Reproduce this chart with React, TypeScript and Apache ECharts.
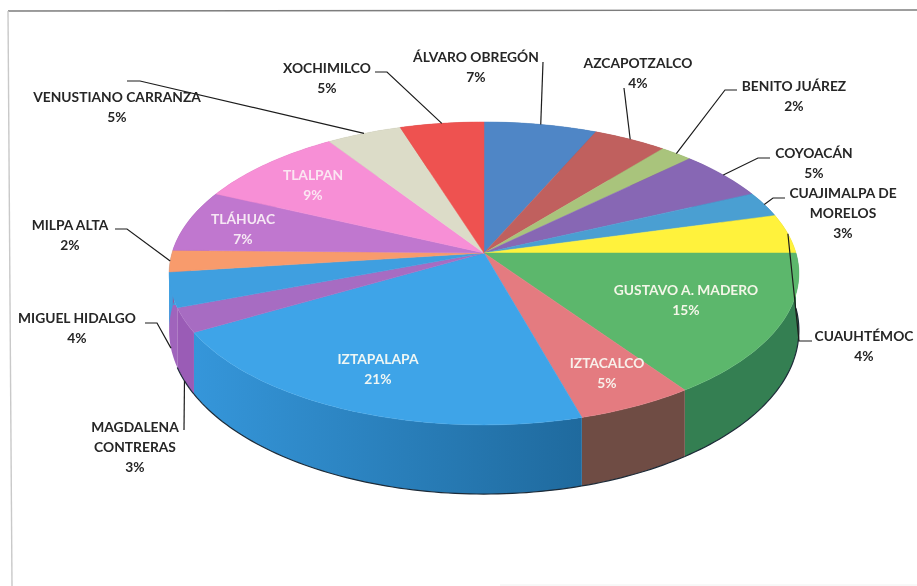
import React, { useEffect, useRef } from "react";
import * as echarts from "echarts";

const names = [
  "ÁLVARO OBREGÓN", "AZCAPOTZALCO", "BENITO JUÁREZ", "COYOACÁN", "CUAJIMALPA DE\nMORELOS",
  "CUAUHTÉMOC", "GUSTAVO A. MADERO", "IZTACALCO", "IZTAPALAPA", "MAGDALENA\nCONTRERAS",
  "MIGUEL HIDALGO", "MILPA ALTA", "TLÁHUAC", "TLALPAN", "VENUSTIANO CARRANZA", "XOCHIMILCO",
];
const values = [6.6, 4.3, 1.9, 5.3, 2.7, 4.2, 15.3, 5.3, 21.1, 2.6, 3.7, 2.3, 6.6, 8.8, 4.4, 4.9];
const percentLabels = ["7%", "4%", "2%", "5%", "3%", "4%", "15%", "5%", "21%", "3%", "4%", "2%", "7%", "9%", "5%", "5%"];

const topColors = [
  "#4f86c6", "#c0605e", "#a9c47c", "#8767b4", "#4a9fd2", "#fff23c", "#5cb76c", "#e47b80",
  "#3ea4e8", "#a76cc2", "#3f9fe0", "#f89b6c", "#c077cf", "#f78fd6", "#dcdcc8", "#ee5250",
];
const wallColors = [
  "#3b6594", "#8f4745", "#7f935c", "#654d87", "#37779e", "#bfb52c", "#347f52", "#6f4c44",
  "#2a80c4", "#9a5cb6", "#3f9fe0", "#3f9fe0", "#90599b", "#b96ba0", "#a5a596", "#b23d3c",
];

const CX = 484, CY = 253, RX = 312, RY = 148.7, K = 0.135;
const total = values.reduce((a, b) => a + b, 0);

function startAngle(i: number) {
  let s = 0;
  for (let j = 0; j < i; j++) s += values[j];
  return (s / total) * Math.PI * 2;
}
function topPt(a: number): [number, number] {
  const u = Math.sin(a), v = -Math.cos(a), w = 1 - K * v;
  return [CX + (RX * u) / w, CY + (RY * v) / w];
}
function botPt(a: number): [number, number] {
  const [x, y] = topPt(a);
  return [x, y + 55.4 + 0.08 * (y - CY)];
}
function arc(a0: number, a1: number, f: (a: number) => [number, number]) {
  const n = Math.max(2, Math.ceil((a1 - a0) / 0.02));
  const pts: [number, number][] = [];
  for (let i = 0; i <= n; i++) pts.push(f(a0 + ((a1 - a0) * i) / n));
  return pts;
}

// label placement: centre of text block and first-line y
const labelBoxes: { x: number; y: number; c?: string }[] = [
  { x: 476, y: 57 }, { x: 638, y: 63 }, { x: 794, y: 86 }, { x: 814, y: 153 },
  { x: 843, y: 193 }, { x: 864, y: 336 }, { x: 686, y: 290, c: "#f4f6e8" },
  { x: 607, y: 363, c: "#f8f0ea" }, { x: 378, y: 359, c: "#eef6f4" }, { x: 135, y: 427 },
  { x: 77, y: 318 }, { x: 70, y: 225 }, { x: 243, y: 219, c: "#f6e8f4" },
  { x: 313, y: 175, c: "#fbe6f2" }, { x: 117, y: 97 }, { x: 327, y: 68 },
];
// leader lines: label-side points; the last point is computed from the slice's mid angle
const leaders: { i: number; pts: [number, number][]; bottom?: boolean }[] = [
  { i: 0, pts: [[543, 62]] },
  { i: 1, pts: [[624, 88]] },
  { i: 2, pts: [[737, 90], [725, 90]] },
  { i: 3, pts: [[770, 158], [758, 158]] },
  { i: 4, pts: [[785, 198], [773, 198]] },
  { i: 5, pts: [[812, 341], [799, 341]] },
  { i: 9, pts: [[184, 430]], bottom: true },
  { i: 10, pts: [[145, 323], [157, 323]], bottom: true },
  { i: 11, pts: [[115, 229], [127, 229]] },
  { i: 14, pts: [[127, 81], [140, 81]] },
  { i: 15, pts: [[375, 72], [387, 72]] },
];

const FONT = "Lato";

export default function App() {
  const ref = useRef<HTMLDivElement>(null);
  useEffect(() => {
    const chart = echarts.init(ref.current!, undefined, { renderer: "svg" });
    const walls = {
      type: "custom",
      coordinateSystem: "none",
      z: 1,
      silent: true,
      data: values,
      renderItem: (p: any) => {
        const i = p.dataIndex;
        const a0 = startAngle(i), a1 = startAngle(i + 1);
        const t = arc(a0, a1, topPt), b = arc(a0, a1, botPt);
        const pts = t.concat(b.slice().reverse());
        let fill: any = wallColors[i];
        if (i === 8) {
          fill = new echarts.graphic.LinearGradient(1, 0, 0, 0, [
            { offset: 0, color: "#1f6a9e" },
            { offset: 1, color: "#3596da" },
          ]);
        } else if (i === 10) {
          fill = new echarts.graphic.LinearGradient(
            0, 280, 0, 330,
            [
              { offset: 0, color: "#3f9fe0" },
              { offset: 0.5, color: "#3f9fe0" },
              { offset: 0.5, color: "#a064bc" },
              { offset: 1, color: "#a064bc" },
            ],
            true
          );
        }
        return {
          type: "group",
          children: [
            { type: "polygon", shape: { points: pts }, style: { fill, lineWidth: 0 } },
            {
              type: "polyline",
              shape: { points: b },
              style: { fill: "none", stroke: "#1d2b38", lineWidth: i >= 6 && i <= 9 ? 1.2 : 0 },
            },
          ],
        };
      },
    };
    const tops = {
      type: "custom",
      coordinateSystem: "none",
      z: 2,
      silent: true,
      data: values,
      renderItem: (p: any) => {
        const i = p.dataIndex;
        const pts = [[CX, CY] as [number, number]].concat(arc(startAngle(i), startAngle(i + 1), topPt));
        return {
          type: "polygon",
          shape: { points: pts },
          style: { fill: topColors[i], stroke: topColors[i], lineWidth: 0.5 },
        };
      },
    };
    const graphic: any[] = [
      { type: "line", z: 5, shape: { x1: 8, y1: 11, x2: 917, y2: 10 }, style: { stroke: "#7d7d7d", lineWidth: 1.4 } },
      { type: "line", z: 5, shape: { x1: 8, y1: 11, x2: 12, y2: 586 }, style: { stroke: "#c9c9c9", lineWidth: 1.4 } },
      { type: "line", z: 5, shape: { x1: 500, y1: 585, x2: 917, y2: 585 }, style: { stroke: "#f0f0f0", lineWidth: 1 } },
    ];
    leaders.forEach((l) => {
      const mid = (startAngle(l.i) + startAngle(l.i + 1)) / 2;
      const end = l.bottom ? botPt(mid) : topPt(mid);
      graphic.push({
        type: "polyline",
        z: 6,
        shape: { points: [...l.pts, end] },
        style: { fill: "none", stroke: "#1c1c1c", lineWidth: 1.2 },
      });
    });
    names.forEach((n, i) => {
      const b = labelBoxes[i];
      graphic.push({
        type: "text",
        z: 7,
        x: b.x,
        y: b.y - 10,
        style: {
          text: `${n}\n${percentLabels[i]}`,
          fill: b.c || "#262626",
          font: `bold 13.8px ${FONT}`,
          lineHeight: 19.7,
          align: "center",
          verticalAlign: "top",
        },
      });
    });
    chart.setOption({ animation: false, backgroundColor: "#ffffff", series: [walls, tops], graphic });
    return () => chart.dispose();
  }, []);
  return <div ref={ref} style={{ position: "fixed", left: 0, top: 0, width: 917, height: 586, filter: "blur(0.5px)" }} />;
}
